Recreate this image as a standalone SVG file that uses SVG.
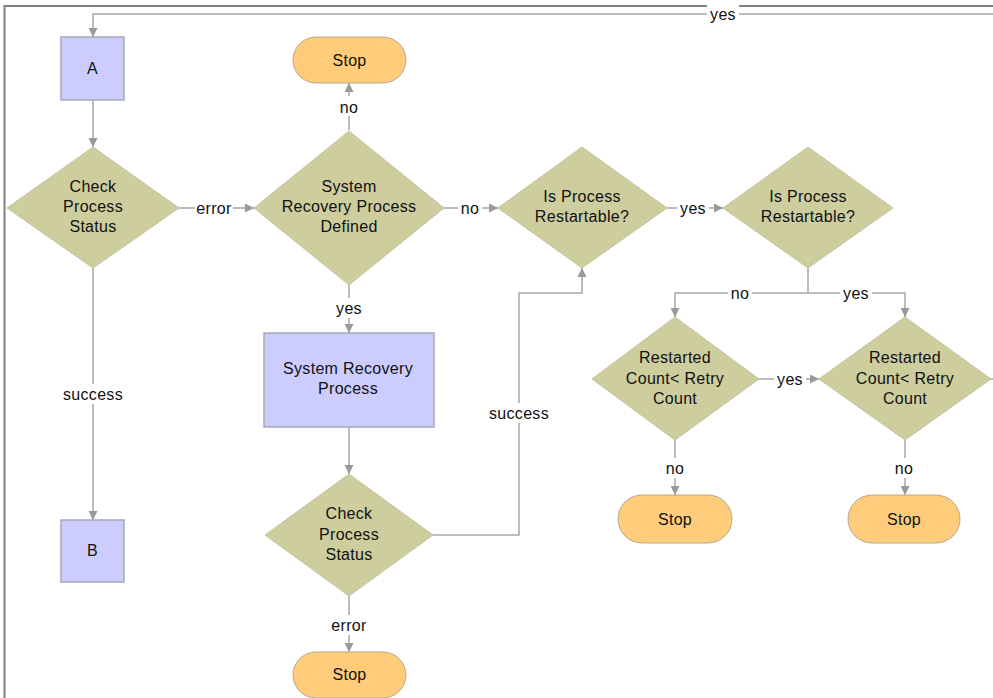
<svg xmlns="http://www.w3.org/2000/svg" width="993" height="698" viewBox="0 0 993 698">
<defs>
<marker id="arr" markerUnits="userSpaceOnUse" markerWidth="9" markerHeight="9" refX="9" refY="4.5" orient="auto">
<path d="M0,0 L9,4.5 L0,9 z" fill="#999"/>
</marker>
<style>
.frame{fill:none;stroke:#808080;stroke-width:2}
.c{fill:none;stroke:#a6a6a6;stroke-width:1.5}
.ca{fill:none;stroke:#a6a6a6;stroke-width:1.5;marker-end:url(#arr)}
.dia{fill:#cdcd9e;stroke:#c4c4a4;stroke-width:1}
.box{fill:#ccccff;stroke:#a8a8b8;stroke-width:1.5}
.stop{fill:#fecc7a;stroke:#b8a888;stroke-width:1}
text{font-family:"Liberation Sans",Arial,sans-serif;font-size:16px;fill:#111;text-anchor:middle;letter-spacing:0.3px}
.lb{fill:#fff}
</style>
</defs>
<rect width="993" height="698" fill="#fff"/>
<path class="frame" d="M4.5,698 V6 H993"/>
<g id="connectors">
<path class="ca" d="M993,14 H93 V37"/>
<rect class="lb" x="707" y="5" width="32" height="18"/><text x="723" y="19.5">yes</text>
<path class="ca" d="M93,100 V147"/>
<path class="ca" d="M93,268 V520"/>
<rect class="lb" x="60" y="384" width="66" height="20"/><text x="93" y="399.5">success</text>
<path class="ca" d="M178,208 H254"/>
<rect class="lb" x="195" y="199" width="38" height="18"/><text x="214" y="213.5">error</text>
<path class="ca" d="M349,130 V83"/>
<rect class="lb" x="336" y="96" width="26" height="20"/><text x="349" y="112.5">no</text>
<path class="ca" d="M444,208 H498"/>
<rect class="lb" x="458" y="199" width="24" height="18"/><text x="470" y="213.5">no</text>
<path class="ca" d="M349,285 V333"/>
<rect class="lb" x="333" y="298" width="32" height="20"/><text x="349" y="313.5">yes</text>
<path class="ca" d="M349,427 V474"/>
<path class="ca" d="M349,596 V652"/>
<rect class="lb" x="330" y="615" width="38" height="20"/><text x="349" y="630.5">error</text>
<path class="ca" d="M433,535 H519 V293 H582 V268"/>
<rect class="lb" x="486" y="403" width="66" height="20"/><text x="519" y="418.5">success</text>
<path class="ca" d="M667,208 H723"/>
<rect class="lb" x="677" y="199" width="32" height="18"/><text x="693" y="213.5">yes</text>
<path class="c" d="M808,268 V293"/>
<path class="ca" d="M808,293 H675 V317"/>
<path class="ca" d="M808,293 H905 V317"/>
<rect class="lb" x="728" y="284" width="24" height="18"/><text x="740" y="298.5">no</text>
<rect class="lb" x="840" y="284" width="32" height="18"/><text x="856" y="298.5">yes</text>
<path class="ca" d="M759,379 H819"/>
<rect class="lb" x="774" y="370" width="32" height="18"/><text x="790" y="384.5">yes</text>
<path class="ca" d="M675,440 V495"/>
<rect class="lb" x="663" y="458" width="24" height="20"/><text x="675" y="473.5">no</text>
<path class="ca" d="M905,440 V495"/>
<rect class="lb" x="893" y="458" width="24" height="20"/><text x="904" y="473.5">no</text>
<path class="c" d="M991,379 H993"/>
</g>
<g id="nodeA">
<rect class="box" x="61" y="37" width="63" height="63"/>
<text x="92.5" y="74">A</text>
</g>
<g id="nodeB">
<rect class="box" x="61" y="520" width="63" height="62"/>
<text x="92.5" y="556">B</text>
</g>
<g id="stop1">
<rect class="stop" x="293" y="37" width="113" height="46" rx="23"/>
<text x="349.5" y="65.5">Stop</text>
</g>
<g id="check1">
<polygon class="dia" points="93,147 179,208 93,268 7,208"/>
<text x="93" y="192">Check</text>
<text x="93" y="212">Process</text>
<text x="93" y="232">Status</text>
</g>
<g id="sysdefined">
<polygon class="dia" points="349,131 444,208 349,285 254,208"/>
<text x="349" y="192">System</text>
<text x="349" y="212">Recovery Process</text>
<text x="349" y="232">Defined</text>
</g>
<g id="restartable1">
<polygon class="dia" points="582,147 667,208 582,268 498,208"/>
<text x="582" y="202">Is Process</text>
<text x="582" y="222">Restartable?</text>
</g>
<g id="restartable2">
<polygon class="dia" points="808,147 893,208 808,268 723,208"/>
<text x="808" y="202">Is Process</text>
<text x="808" y="222">Restartable?</text>
</g>
<g id="sysrecovery">
<rect class="box" x="264" y="333" width="170" height="94"/>
<text x="348" y="374">System Recovery</text>
<text x="348" y="394">Process</text>
</g>
<g id="check2">
<polygon class="dia" points="349,474 433,535 349,596 265,535"/>
<text x="349" y="519">Check</text>
<text x="349" y="540">Process</text>
<text x="349" y="560">Status</text>
</g>
<g id="stop2">
<rect class="stop" x="293" y="652" width="113" height="46" rx="23"/>
<text x="349.5" y="680">Stop</text>
</g>
<g id="retry1">
<polygon class="dia" points="675,317 759,379 675,440 592,379"/>
<text x="675" y="363">Restarted</text>
<text x="675" y="384">Count&lt; Retry</text>
<text x="675" y="404">Count</text>
</g>
<g id="retry2">
<polygon class="dia" points="905,317 991,379 905,440 819,379"/>
<text x="905" y="363">Restarted</text>
<text x="905" y="384">Count&lt; Retry</text>
<text x="905" y="404">Count</text>
</g>
<g id="stop3">
<rect class="stop" x="618" y="495" width="114" height="48" rx="24"/>
<text x="675" y="524.5">Stop</text>
</g>
<g id="stop4">
<rect class="stop" x="848" y="495" width="112" height="48" rx="24"/>
<text x="904" y="524.5">Stop</text>
</g>
</svg>
